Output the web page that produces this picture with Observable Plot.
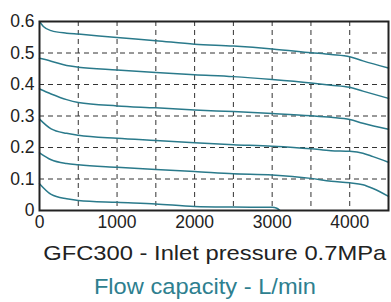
<!DOCTYPE html>
<html>
<head>
<meta charset="utf-8">
<script src="https://cdn.jsdelivr.net/npm/d3@7"></script>
<script src="https://cdn.jsdelivr.net/npm/@observablehq/plot@0.6"></script>
<style>
  html, body { margin: 0; padding: 0; background: #fff; }
  #wrap { position: relative; width: 391px; height: 302px; overflow: hidden; font-family: "Liberation Sans", Arial, sans-serif; }
  #wrap svg { position: absolute; left: 0; top: 0; }
  .t { position: absolute; white-space: nowrap; line-height: 1; transform-origin: center; }
</style>
</head>
<body>
<div id="wrap"></div>
<script>
// Data
const xTicks = [0, 1000, 2000, 3000, 4000];
const yTicks = [0, 0.1, 0.2, 0.3, 0.4, 0.5, 0.6];
const gridX = [500, 1000, 1500, 2000, 2500, 3000, 3500, 4000];
const gridY = [0.1, 0.2, 0.3, 0.4, 0.5];

const flow1 = [0, 50, 150, 350, 500, 1000, 1500, 2000, 2500, 3000, 3500, 3760, 4000, 4170, 4500];
const curve1 = [0.600, 0.584, 0.571, 0.563, 0.560, 0.549, 0.539, 0.528, 0.522, 0.513, 0.501, 0.495, 0.488, 0.475, 0.452];

const flowStd = [0, 150, 350, 500, 1000, 1500, 2000, 2500, 3000, 3500, 3760, 4000, 4170, 4500];
const curve2 = [0.483, 0.474, 0.460, 0.455, 0.446, 0.438, 0.431, 0.425, 0.416, 0.405, 0.398, 0.391, 0.379, 0.356];
const curve3 = [0.386, 0.370, 0.352, 0.343, 0.332, 0.326, 0.319, 0.314, 0.308, 0.301, 0.296, 0.289, 0.277, 0.258];

const flowKnee = [0, 150, 350, 500, 1000, 1500, 2000, 2500, 3000, 3500, 3760, 4000, 4170, 4300, 4500];
const curve4 = [0.290, 0.259, 0.245, 0.239, 0.229, 0.222, 0.215, 0.209, 0.204, 0.196, 0.190, 0.188, 0.182, 0.171, 0.153];
const curve5 = [0.183, 0.161, 0.149, 0.145, 0.137, 0.130, 0.124, 0.117, 0.113, 0.102, 0.093, 0.088, 0.082, 0.070, 0.045];

const flow6 = [0, 150, 350, 500, 1000, 1500, 2000, 2500, 3000, 3060, 3100];
const curve6 = [0.085, 0.051, 0.037, 0.032, 0.026, 0.021, 0.013, 0.011, 0.010, 0.007, 0.0];

const titleText = "GFC300 - Inlet pressure 0.7MPa";
const subtitleText = "Flow capacity - L/min";

const series = [
  [flow1, curve1], [flowStd, curve2], [flowStd, curve3],
  [flowKnee, curve4], [flowKnee, curve5], [flow6, curve6]
];
const rows = [];
series.forEach(([xs, ys], i) => xs.forEach((x, j) => rows.push({id: i, flow: x, p: ys[j]})));

const chart = Plot.plot({
  width: 391,
  height: 232,
  marginLeft: 39,
  marginRight: 3,
  marginTop: 21,
  marginBottom: 22,
  style: { fontFamily: "Liberation Sans, Arial, sans-serif", fontSize: "17.5px", color: "#222", background: "transparent" },
  x: { domain: [0, 4500], ticks: xTicks, tickFormat: d => String(d), tickSize: 0, tickPadding: 5, label: null },
  y: { domain: [0, 0.6], ticks: yTicks, tickFormat: d => d === 0 ? "0" : d.toFixed(1), tickSize: 0, tickPadding: 5, label: null },
  marks: [
    Plot.ruleX(gridX, { stroke: "#333", strokeWidth: 1, strokeDasharray: "5,4" }),
    Plot.ruleY(gridY, { stroke: "#333", strokeWidth: 1, strokeDasharray: "5,4" }),
    Plot.line(rows, { x: "flow", y: "p", z: "id", stroke: "#2a7a8b", strokeWidth: 1.5, curve: "monotone-x" }),
    Plot.frame({ stroke: "#222", strokeWidth: 2 })
  ]
});

const wrap = document.getElementById("wrap");
wrap.appendChild(chart);

function addText(text, size, color, cx, top, sx) {
  const d = document.createElement("div");
  d.className = "t";
  d.textContent = text;
  d.style.fontSize = size + "px";
  d.style.color = color;
  d.style.top = top + "px";
  wrap.appendChild(d);
  const w = d.getBoundingClientRect().width;
  d.style.left = (cx - w / 2) + "px";
  d.style.transform = "scaleX(" + sx + ")";
}
addText(titleText, 21, "#222", 215, 242, 1.13);
addText(subtitleText, 21.5, "#2e7f8f", 205, 276.5, 1.1);
</script>
</body>
</html>
